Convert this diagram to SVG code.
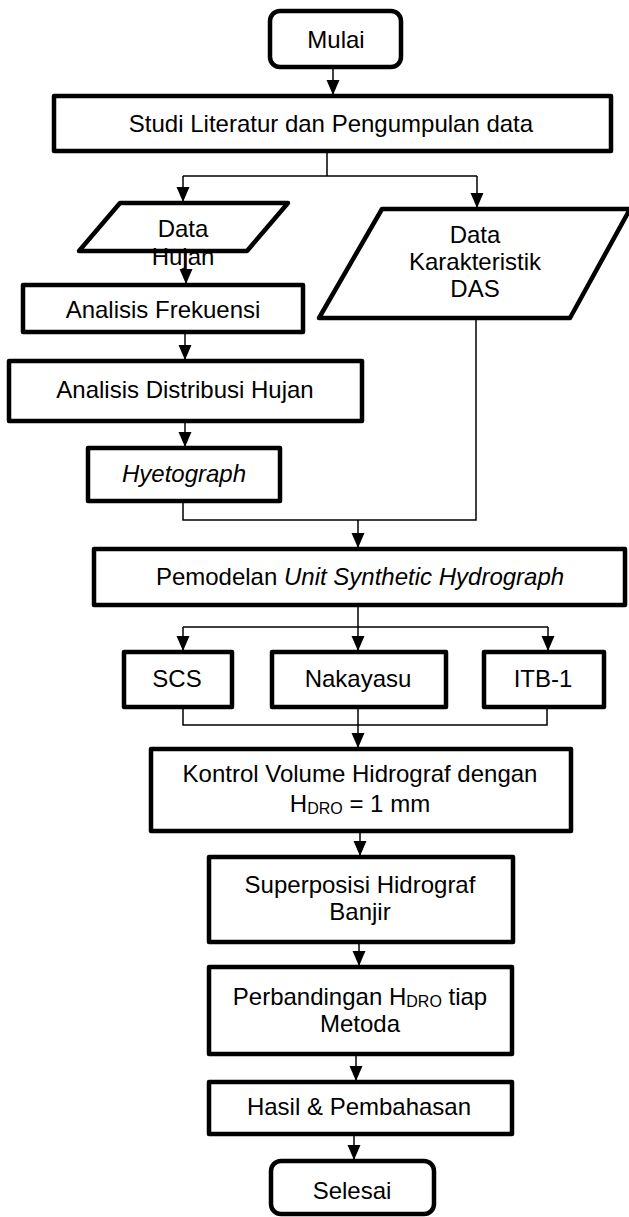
<svg xmlns="http://www.w3.org/2000/svg" width="629" height="1217" viewBox="0 0 629 1217">
<style>
text{font-family:"Liberation Sans",Arial,sans-serif;font-size:24px;fill:#000;text-anchor:middle}
.box{fill:#fff;stroke:#000;stroke-width:4.5;stroke-linejoin:round}
.c{fill:none;stroke:#000;stroke-width:1.5}
.a{fill:none;stroke:#000;stroke-width:1.5;marker-end:url(#ah)}
.sub{font-size:16px}
.it{font-style:italic}
</style>
<defs>
<marker id="ah" markerUnits="userSpaceOnUse" markerWidth="16" markerHeight="14" refX="15" refY="6.5" orient="auto">
<path d="M0,0 L15,6.5 L0,13 Z" fill="#000"/>
</marker>
</defs>
<rect width="629" height="1217" fill="#fff"/>
<g id="connectors">
<path class="a" d="M333,67 V95"/>
<path class="c" d="M327,151 V176 M183,176 H477"/>
<path class="a" d="M183,176 V202"/>
<path class="a" d="M477,176 V208"/>
<path class="a" d="M186,251 V284"/>
<path class="a" d="M185,332 V360"/>
<path class="a" d="M185,421 V447"/>
<path class="c" d="M183,501 V520 H476 V318"/>
<path class="a" d="M358,520 V548"/>
<path class="c" d="M358,605 V627 M183,627 H548"/>
<path class="a" d="M183,627 V651"/>
<path class="a" d="M358,627 V651"/>
<path class="a" d="M548,627 V651"/>
<path class="c" d="M183,707 V725 H547 V707"/>
<path class="a" d="M358,707 V748"/>
<path class="a" d="M360,831 V856"/>
<path class="a" d="M359,942 V966"/>
<path class="a" d="M356,1054 V1081"/>
<path class="a" d="M354,1134 V1160"/>
</g>
<g id="mulai">
<rect class="box" x="270" y="11" width="131" height="56" rx="10"/>
<text x="336" y="48">Mulai</text>
</g>
<g id="studi">
<rect class="box" x="54" y="96" width="557" height="55"/>
<text x="331" y="132">Studi Literatur dan Pengumpulan data</text>
</g>
<g id="data-hujan">
<polygon class="box" points="120,203 288,203 247,251 79,251"/>
<text x="183" y="237">Data</text>
<text x="183" y="265">Hujan</text>
</g>
<g id="data-das">
<polygon class="box" points="382,209 630,209 570,318 319,318"/>
<text x="475" y="243">Data</text>
<text x="475" y="270">Karakteristik</text>
<text x="475" y="297">DAS</text>
</g>
<g id="analisis-frekuensi">
<rect class="box" x="23" y="285" width="280" height="47"/>
<text x="163" y="318">Analisis Frekuensi</text>
</g>
<g id="analisis-distribusi">
<rect class="box" x="9" y="361" width="353" height="60"/>
<text x="185" y="398">Analisis Distribusi Hujan</text>
</g>
<g id="hyetograph">
<rect class="box" x="88" y="448" width="192" height="53"/>
<text x="184" y="482" class="it">Hyetograph</text>
</g>
<g id="pemodelan">
<rect class="box" x="94" y="549" width="531" height="56"/>
<text x="360" y="585">Pemodelan <tspan class="it">Unit Synthetic Hydrograph</tspan></text>
</g>
<g id="scs">
<rect class="box" x="124" y="652" width="108" height="55"/>
<text x="177" y="687">SCS</text>
</g>
<g id="nakayasu">
<rect class="box" x="272" y="652" width="174" height="55"/>
<text x="358" y="687">Nakayasu</text>
</g>
<g id="itb1">
<rect class="box" x="484" y="652" width="120" height="55"/>
<text x="543" y="687">ITB-1</text>
</g>
<g id="kontrol">
<rect class="box" x="151" y="749" width="420" height="82"/>
<text x="360" y="782">Kontrol Volume Hidrograf dengan</text>
<text x="360" y="812">H<tspan class="sub" dy="2">DRO</tspan><tspan dy="-2"> = 1 mm</tspan></text>
</g>
<g id="superposisi">
<rect class="box" x="209" y="857" width="304" height="85"/>
<text x="360" y="893">Superposisi Hidrograf</text>
<text x="360" y="920">Banjir</text>
</g>
<g id="perbandingan">
<rect class="box" x="209" y="967" width="303" height="87"/>
<text x="360" y="1005">Perbandingan H<tspan class="sub" dy="2">DRO</tspan><tspan dy="-2"> tiap</tspan></text>
<text x="360" y="1032">Metoda</text>
</g>
<g id="hasil">
<rect class="box" x="209" y="1082" width="303" height="52"/>
<text x="359" y="1115">Hasil &amp; Pembahasan</text>
</g>
<g id="selesai">
<rect class="box" x="271" y="1161" width="163" height="53" rx="10"/>
<text x="352" y="1199">Selesai</text>
</g>
</svg>
